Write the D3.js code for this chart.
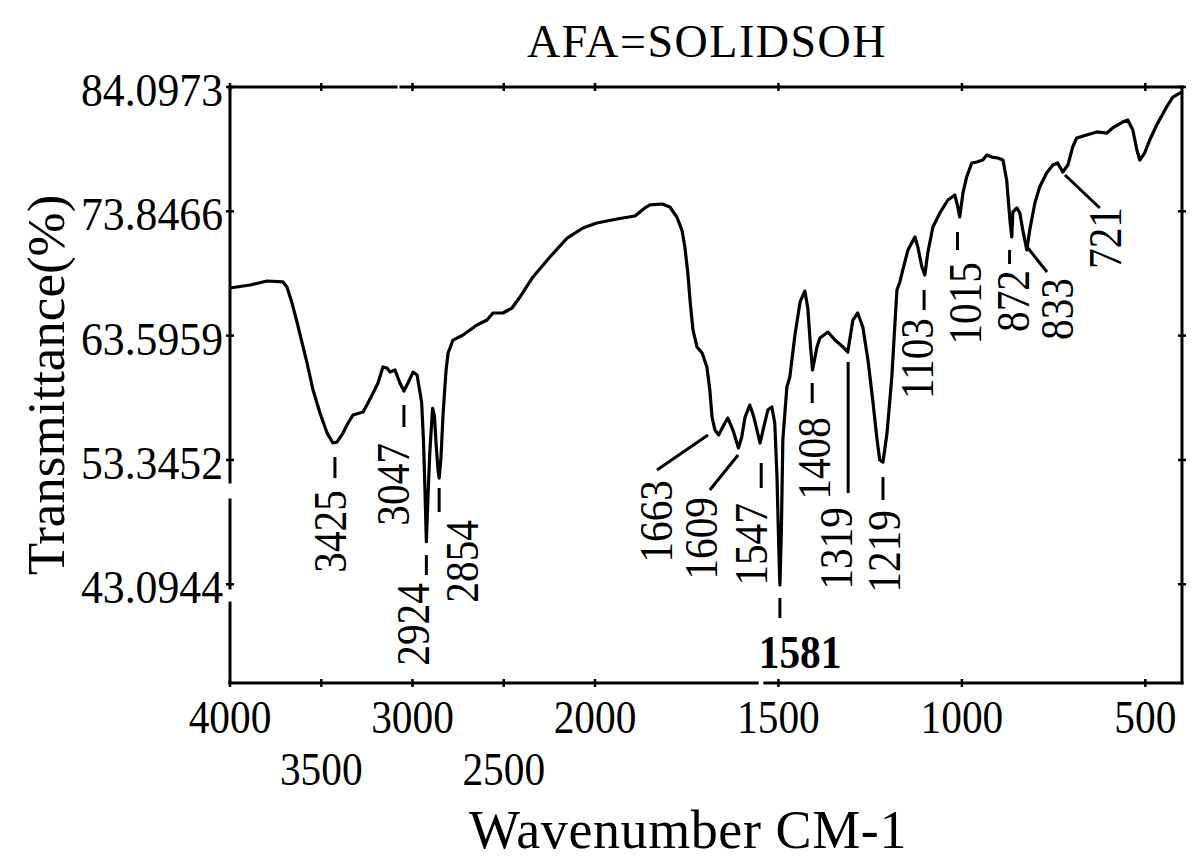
<!DOCTYPE html>
<html>
<head>
<meta charset="utf-8">
<script src="https://cdnjs.cloudflare.com/ajax/libs/d3/7.8.5/d3.min.js"></script>
<style>
  body { margin: 0; background: #fff; }
  text { font-family: "Liberation Serif", "Times New Roman", serif; fill: #000; }
</style>
</head>
<body>
<svg id="chart"></svg>
<script>

// spectrum
var wavenumber = [4000,3890,3797,3710,3688,3660,3633,3605,3578,3545,3507,3468,3436,3414,3381,3353,3326,3271,3244,3216,3189,3162,3140,3123,3096,3069,3047,3025,2997,2975,2950,2940,2932,2924,2916,2905,2890,2880,2870,2860,2854,2844,2833,2816,2805,2778,2723,2647,2592,2559,2504,2455,2411,2340,2247,2153,2066,1995,1940,1891,1864,1850,1817,1796,1777,1763,1755,1747,1741,1733,1722,1708,1695,1687,1681,1673,1663,1646,1638,1624,1609,1600,1591,1578,1567,1550,1542,1529,1518,1510,1504,1499,1496,1492,1488,1477,1469,1455,1441,1428,1420,1412,1407,1395,1387,1365,1346,1324,1311,1297,1284,1270,1256,1243,1232,1224,1215,1204,1191,1183,1177,1169,1161,1147,1128,1120,1109,1101,1093,1079,1060,1038,1019,1011,1006,997,987,973,959,943,932,918,902,888,878,869,864,861,850,842,834,823,815,801,788,769,752,739,725,711,698,687,660,632,605,589,562,548,534,523,515,502,488,469,442,425,400];
var transmittance = [67.52,67.77,68.10,68.02,67.60,66.28,64.72,62.99,61.34,59.11,57.21,55.56,54.74,54.82,55.56,56.39,57.05,57.30,58.04,58.86,59.69,61.01,60.92,60.59,60.76,59.69,59.03,59.69,60.59,60.35,58.10,55.00,51.00,46.60,50.00,54.00,57.60,57.00,54.50,52.50,51.85,53.50,57.00,60.76,62.16,63.23,63.65,64.47,64.88,65.46,65.46,65.87,66.78,68.43,70.08,71.64,72.47,72.88,73.21,73.46,74.12,74.37,74.45,74.20,73.38,72.30,70.90,68.76,66.53,64.06,62.66,62.16,61.01,59.11,56.88,55.81,55.40,56.39,56.80,55.81,54.33,55.23,56.88,57.87,56.88,54.74,55.81,57.46,57.71,56.39,52.00,46.00,43.03,47.50,54.99,59.36,60.18,63.65,66.37,67.27,65.87,62.50,60.76,62.66,63.40,63.89,63.23,62.66,62.24,64.88,65.46,64.31,61.58,58.29,55.23,53.34,53.17,55.56,60.18,64.31,67.36,68.02,69.01,70.66,71.73,70.90,69.25,68.59,70.41,72.55,73.71,74.78,75.19,74.20,73.38,75.36,76.68,77.83,77.91,78.08,78.49,78.32,78.24,78.08,76.43,73.13,71.73,73.79,74.12,73.71,72.30,70.66,72.30,74.53,75.85,77.01,77.66,77.83,77.09,77.66,79.15,79.89,80.14,80.39,80.30,80.72,81.21,81.38,80.55,78.90,78.08,78.65,79.73,80.96,82.45,83.27,83.69];

var yTicks = [84.0973, 73.8466, 63.5959, 53.3452, 43.0944];
var xTicksTop = [4000, 3000, 2000, 1500, 1000, 500];
var xTicksLow = [3500, 2500];
var yMin = 34.95;

// peak annotations: label text, where the text column sits, and its marker (dash or leader)
var peakText   = ["3425","3047","2924","2854","1663","1609","1547","1408","1319","1219","1103","1015","872","833","721"];
var textWn     = [3452, 3107, 2997, 2729, 1834, 1711, 1575, 1403, 1343, 1212, 1122, 992, 861, 741, 610];
var textTopT   = [50.86, 54.74, 43.19, 48.39, 51.69, 50.29, 49.79, 56.88, 49.46, 49.21, 65.05, 69.67, 69.01, 68.35, 74.20];
var markWn1    = [3425, 3047, 2924, 2854, 1692, 1610, 1547, 1408, 1310, 1215, 1103, 1012, 870, 820, 719];
var markT1     = [53.58, 57.87, 45.50, 51.03, 55.40, 53.75, 53.09, 59.69, 61.42, 51.93, 67.36, 72.14, 70.66, 70.82, 76.84];
var markWn2    = [3425, 3047, 2924, 2854, 1831, 1687, 1547, 1408, 1310, 1215, 1103, 1012, 870, 768, 624];
var markT2     = [51.85, 56.06, 43.85, 49.05, 52.51, 50.86, 51.03, 58.04, 50.62, 50.04, 65.71, 70.66, 69.50, 68.84, 74.12];

// the 1581 label sits under the deepest band, written across
var flatText = "1581";
var flatWn = 1441, flatT = 36.18;
var flatMarkWn = 1496, flatMarkT = [41.96, 40.31];

// breaks in the scanned frame lines
var leftGapsT = [[51.52, 50.04], [42.78, 41.54]];
var topGapsWn = [[3090, 3063]];
var bottomGapsWn = [[1558, 1537]];

var W = 1196, H = 860;
var svg = d3.select('#chart').attr('width', W).attr('height', H);

var x = d3.scaleLinear().domain([4000, 2000, 400]).range([230, 595, 1182]);
var y = d3.scaleLinear().domain([yMin, yTicks[0]]).range([683, 87]);

var ink = "#000";

// frame drawn as pieces so the gaps show
function hSegments(gaps, lo, hi) {
  var pts = [lo];
  gaps.forEach(function(g){ pts.push(g[0], g[1]); });
  pts.push(hi);
  var segs = [];
  for (var i = 0; i < pts.length; i += 2) segs.push([pts[i], pts[i+1]]);
  return segs;
}

var frame = svg.append('g').attr('stroke', ink).attr('stroke-width', 3).attr('stroke-linecap', 'square');

hSegments(topGapsWn, 4000, 400).forEach(function(s){
  frame.append('line').attr('x1', x(s[0])).attr('x2', x(s[1])).attr('y1', y(yTicks[0])).attr('y2', y(yTicks[0]));
});
hSegments(bottomGapsWn, 4000, 400).forEach(function(s){
  frame.append('line').attr('x1', x(s[0])).attr('x2', x(s[1])).attr('y1', y(yMin)).attr('y2', y(yMin));
});
hSegments(leftGapsT, yTicks[0], yMin).forEach(function(s){
  frame.append('line').attr('x1', x(4000)).attr('x2', x(4000)).attr('y1', y(s[0])).attr('y2', y(s[1]));
});
frame.append('line').attr('x1', x(400)).attr('x2', x(400)).attr('y1', y(yTicks[0])).attr('y2', y(yMin));

// tick marks crossing the frame
var allX = xTicksTop.concat(xTicksLow);
[y(yTicks[0]), y(yMin)].forEach(function(yy){
  svg.append('g').selectAll('line').data(allX).enter().append('line')
    .attr('x1', function(d){ return x(d); }).attr('x2', function(d){ return x(d); })
    .attr('y1', yy - 4).attr('y2', yy + 4)
    .attr('stroke', ink).attr('stroke-width', 2.5);
});
[x(4000), x(400)].forEach(function(xx){
  svg.append('g').selectAll('line').data(yTicks).enter().append('line')
    .attr('y1', function(d){ return y(d); }).attr('y2', function(d){ return y(d); })
    .attr('x1', xx - 4).attr('x2', xx + 4)
    .attr('stroke', ink).attr('stroke-width', 2.5);
});

// y tick labels
svg.append('g').selectAll('text').data(yTicks).enter().append('text')
  .attr('transform', function(d){ return 'translate(223,' + (y(d) + 19) + ') scale(0.93,1)'; })
  .attr('text-anchor', 'end')
  .attr('font-size', 47)
  .text(function(d){ return d.toFixed(4); });

// x tick labels, two rows
svg.append('g').selectAll('text').data(xTicksTop).enter().append('text')
  .attr('transform', function(d){ return 'translate(' + x(d) + ',733) scale(0.88,1)'; })
  .attr('text-anchor', 'middle')
  .attr('font-size', 47)
  .text(function(d){ return d; });
svg.append('g').selectAll('text').data(xTicksLow).enter().append('text')
  .attr('transform', function(d){ return 'translate(' + x(d) + ',785) scale(0.88,1)'; })
  .attr('text-anchor', 'middle')
  .attr('font-size', 47)
  .text(function(d){ return d; });

// titles
svg.append('text').attr('x', 707).attr('y', 57).attr('text-anchor', 'middle')
  .attr('font-size', 46).attr('letter-spacing', 1.5).text('AFA=SOLIDSOH');
svg.append('text').attr('x', 688).attr('y', 848).attr('text-anchor', 'middle')
  .attr('font-size', 54).attr('letter-spacing', 0.6).text('Wavenumber CM-1');
svg.append('text').attr('transform', 'translate(64,385) rotate(-90)').attr('text-anchor', 'middle')
  .attr('font-size', 53).text('Transmittance(%)');

// spectrum line
var pts = wavenumber.map(function(w, i){ return [w, transmittance[i]]; });
var line = d3.line().x(function(d){ return x(d[0]); }).y(function(d){ return y(d[1]); });
svg.append('path').datum(pts)
  .attr('d', line)
  .attr('fill', 'none')
  .attr('stroke', ink)
  .attr('stroke-width', 3.2)
  .attr('stroke-linejoin', 'round');

// peak markers and labels
var peaks = peakText.map(function(t, i){
  return { t: t, tw: textWn[i], tt: textTopT[i], w1: markWn1[i], t1: markT1[i], w2: markWn2[i], t2: markT2[i] };
});
var ann = svg.append('g');
ann.selectAll('line.mark').data(peaks).enter().append('line')
  .attr('class', 'mark')
  .attr('x1', function(d){ return x(d.w1); }).attr('y1', function(d){ return y(d.t1); })
  .attr('x2', function(d){ return x(d.w2); }).attr('y2', function(d){ return y(d.t2); })
  .attr('stroke', ink).attr('stroke-width', 3);
ann.selectAll('text').data(peaks).enter().append('text')
  .attr('transform', function(d){ return 'translate(' + x(d.tw) + ',' + y(d.tt) + ') rotate(-90) scale(0.88,1)'; })
  .attr('text-anchor', 'end')
  .attr('dy', '0.34em')
  .attr('font-size', 47)
  .text(function(d){ return d.t; });

ann.append('line')
  .attr('x1', x(flatMarkWn)).attr('x2', x(flatMarkWn))
  .attr('y1', y(flatMarkT[0])).attr('y2', y(flatMarkT[1]))
  .attr('stroke', ink).attr('stroke-width', 3);
ann.append('text')
  .attr('transform', 'translate(' + x(flatWn) + ',' + y(flatT) + ') scale(0.88,1)')
  .attr('text-anchor', 'middle')
  .attr('font-size', 47)
  .attr('font-weight', 'bold')
  .text(flatText);

</script>
</body>
</html>
